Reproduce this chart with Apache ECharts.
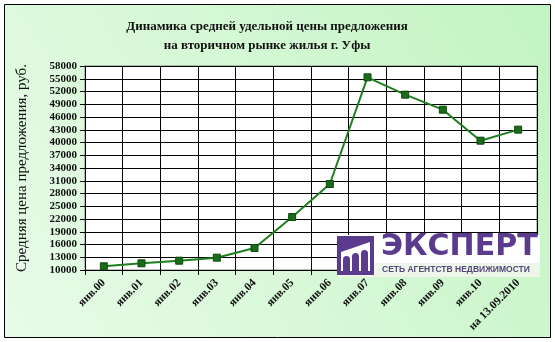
<!DOCTYPE html>
<html><head><meta charset="utf-8">
<script src="https://cdn.jsdelivr.net/npm/echarts@6/dist/echarts.min.js"></script>
<style>html,body{margin:0;padding:0;background:#fff}#c{width:555px;height:342px}</style>
</head><body><div id="c"></div>
<script>
const categories = ['янв.00','янв.01','янв.02','янв.03','янв.04','янв.05','янв.06','янв.07','янв.08','янв.09','янв.10','на 13.09.2010'];
const prices = [10870, 11570, 12190, 12900, 15180, 22470, 30230, 55340, 51250, 47720, 40430, 43020];
const yMin = 10000, yMax = 58000, yStep = 3000;
const titleLines = ['Динамика средней удельной цены предложения', 'на вторичном рынке жилья г. Уфы'];
const yName = 'Средняя цена предложения, руб.';
const logoName = 'ЭКСПЕРТ';
const logoSub = 'СЕТЬ АГЕНТСТВ НЕДВИЖИМОСТИ';

const serif = '"Liberation Serif","Times New Roman",serif';
const purple = '#5b3b8e';
const L = 200;
const chart = echarts.init(document.getElementById('c'), null, {renderer:'canvas'});
chart.setOption({
  backgroundColor: '#ffffff',
  animation: false,
  title: {
    text: titleLines.join('\n'),
    left: 262, top: 12, textAlign: 'center',
    textStyle: {fontFamily: serif, fontWeight: 'bold', fontSize: 13, color: '#111', lineHeight: 19}
  },
  grid: {left: 85, right: 18, top: 66, bottom: 72, show: true, backgroundColor: '#ffffff', borderColor: '#808080', borderWidth: 1},
  xAxis: {
    type: 'category', data: categories, boundaryGap: true,
    axisLine: {lineStyle: {color: '#000', width: 1}},
    axisTick: {show: true, length: 5, lineStyle: {color: '#000'}},
    splitLine: {show: true, lineStyle: {color: '#000', width: 1}},
    axisLabel: {rotate: 45, margin: 11, interval: 0, fontFamily: serif, fontWeight: 'bold', fontSize: 11.5, color: '#111'}
  },
  yAxis: {
    type: 'value', min: yMin, max: yMax, interval: yStep,
    name: yName, nameLocation: 'middle', nameRotate: 90, nameGap: 55,
    nameTextStyle: {fontFamily: serif, fontSize: 15, color: '#111'},
    axisLine: {show: true, lineStyle: {color: '#000', width: 1}},
    axisTick: {show: true, length: 5, lineStyle: {color: '#000'}},
    splitLine: {show: true, lineStyle: {color: '#000', width: 1}},
    axisLabel: {margin: 8, fontFamily: serif, fontWeight: 'bold', fontSize: 11, color: '#111',
      formatter: v => String(v)}
  },
  graphic: [
    {type: 'rect', z: -10, silent: true, shape: {x: 4.5, y: 4.5, width: 546, height: 333},
     style: {fill: new echarts.graphic.LinearGradient(0, 1, 1, 0, [
       {offset: 0, color: '#e8fbe8'}, {offset: 0.5, color: '#d6f8d6'}, {offset: 1, color: '#c2f4c2'}]),
       stroke: '#000', lineWidth: 1}},
    {type: 'rect', z: L, silent: true, shape: {x: 337, y: 235, width: 203, height: 28}, style: {fill: '#ffffff'}},
    {type: 'rect', z: L, silent: true, shape: {x: 337, y: 263, width: 203, height: 14}, style: {fill: '#eef6ea'}},
    {type: 'rect', z: L + 1, silent: true, shape: {x: 337, y: 236, width: 37, height: 39}, style: {fill: purple}},
    {type: 'polygon', z: L + 2, silent: true, shape: {points: [[341, 252], [370, 242], [370, 271], [341, 271]]}, style: {fill: '#ffffff'}},
    {type: 'rect', z: L + 3, silent: true, shape: {x: 343, y: 256, width: 7, height: 15, r: [3.5, 3.5, 0, 0]}, style: {fill: purple}},
    {type: 'rect', z: L + 3, silent: true, shape: {x: 352, y: 253, width: 7, height: 18, r: [3.5, 3.5, 0, 0]}, style: {fill: purple}},
    {type: 'rect', z: L + 3, silent: true, shape: {x: 361, y: 250, width: 7, height: 21, r: [3.5, 3.5, 0, 0]}, style: {fill: purple}},
    {type: 'text', z: L + 3, silent: true, x: 381, y: 247, style: {text: logoName, fill: purple, fontSize: 30, fontWeight: 'bold', fontFamily: '"DejaVu Sans"', verticalAlign: 'middle', align: 'left'}},
    {type: 'text', z: L + 3, silent: true, x: 382, y: 270, style: {text: logoSub, fill: '#56487a', fontSize: 8.5, fontWeight: 'bold', fontFamily: '"Liberation Sans"', verticalAlign: 'middle', align: 'left'}}
  ],
  series: [{
    type: 'line', data: prices,
    lineStyle: {color: '#1f7f1f', width: 2},
    itemStyle: {color: '#1b6b1b', borderColor: '#0e4a0e', borderWidth: 1},
    symbol: 'rect', symbolSize: 7, showSymbol: true
  }]
});
</script></body></html>
